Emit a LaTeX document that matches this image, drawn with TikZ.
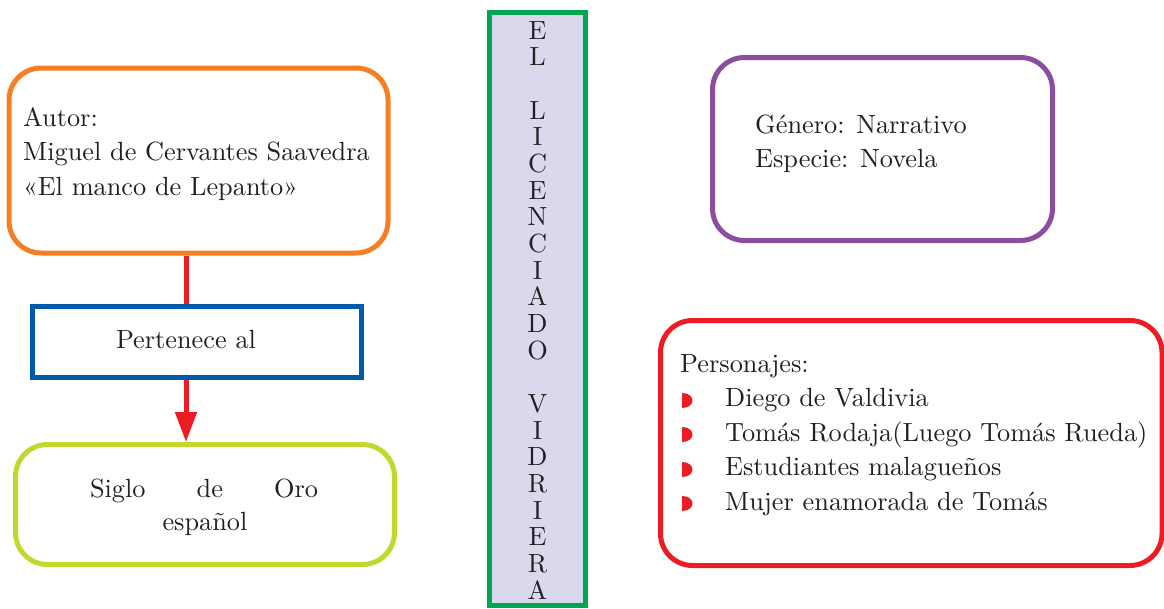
\documentclass[tikz,border=0pt]{standalone}
\usepackage{fontspec}
\setmainfont{lmroman10-regular.otf}
\usetikzlibrary{arrows.meta}
\definecolor{orangeC}{HTML}{F47F24}
\definecolor{blueC}{HTML}{005AA9}
\definecolor{limeC}{HTML}{C3D82F}
\definecolor{purpleC}{HTML}{8C4C9F}
\definecolor{redC}{HTML}{ED1C24}
\definecolor{greenC}{HTML}{00A651}
\definecolor{lavC}{HTML}{D9D8EC}
\definecolor{textC}{HTML}{231F20}
\tikzset{
  box/.style={draw, line width=5pt, rounded corners=32pt, inner sep=0pt, fill=white},
  sqbox/.style={draw, line width=5pt, inner sep=0pt, fill=white},
  txt/.style={inner sep=0pt, text=textC, font=\fontsize{26.3}{34}\selectfont},
  link/.style={draw=redC, line width=5pt},
  bul/.style={fill=redC},
}
\begin{document}
\begin{tikzpicture}[x=1pt,y=-1pt]
\useasboundingbox (0,0) rectangle (1164,608);
% boxes
\node[box, draw=orangeC, minimum width=379pt, minimum height=185pt] (autor) at (198.5,160.5) {};
\node[sqbox, draw=blueC, minimum width=329pt, minimum height=71pt] (pert) at (197,342) {};
\node[box, draw=limeC, minimum width=379pt, minimum height=120pt] (siglo) at (205,504.5) {};
\node[box, draw=purpleC, minimum width=340pt, minimum height=183pt] (genero) at (882.5,149) {};
\node[box, draw=redC, minimum width=501.5pt, minimum height=245pt] (pers) at (911.25,443) {};
\node[sqbox, draw=greenC, fill=lavC, minimum width=96pt, minimum height=593pt] (titulo) at (537.5,309) {};
% connectors
\coordinate (ax) at (186,0);
\draw[link] (autor.south -| ax) -- (pert.north -| ax);
\draw[link, -{Triangle[width=21pt,length=30pt]}] (pert.south -| ax) -- (siglo.north -| ax);
% texts
\node[txt, anchor=base west] (a1) at (23,126) {Autor:};
\node[txt, anchor=base west] (a2) at (23,160.5) {Miguel de Cervantes Saavedra};
\node[txt, anchor=base west] (a3) at (23,195) {«El manco de Lepanto»};
\node[txt, anchor=base] (p1) at (186,348) {Pertenece al};
\node[txt, anchor=base] (s1) at (204,497) {\makebox[228pt][s]{Siglo\hfill de\hfill Oro}};
\node[txt, anchor=base] (s2) at (205,530.5) {español};
\node[txt, anchor=base west] (g1) at (755,133) {Género: Narrativo};
\node[txt, anchor=base west] (g2) at (755,167.5) {Especie: Novela};
\node[txt, anchor=base west] (c0) at (680,372) {Personajes:};
\foreach \t [count=\i] in {Diego de Valdivia, Tomás Rodaja(Luego Tomás Rueda), Estudiantes malagueños, Mujer enamorada de Tomás}{
  \node[txt, anchor=base west] (c\i) at (725,372+34.5*\i) {\t};
  \fill[bul] (682,372+34.5*\i+1) -- (682,372+34.5*\i-14) .. controls (696,372+34.5*\i-14) and (696,372+34.5*\i+1) .. (682,372+34.5*\i+1) -- cycle;
}
\foreach \ch [count=\i from 0] in {E,L,{},L,I,C,E,N,C,I,A,D,O,{},V,I,D,R,I,E,R,A}{
  \node[txt, anchor=base] (v\i) at (537.5,39+26.667*\i) {\ch};
}
\end{tikzpicture}
\end{document}
